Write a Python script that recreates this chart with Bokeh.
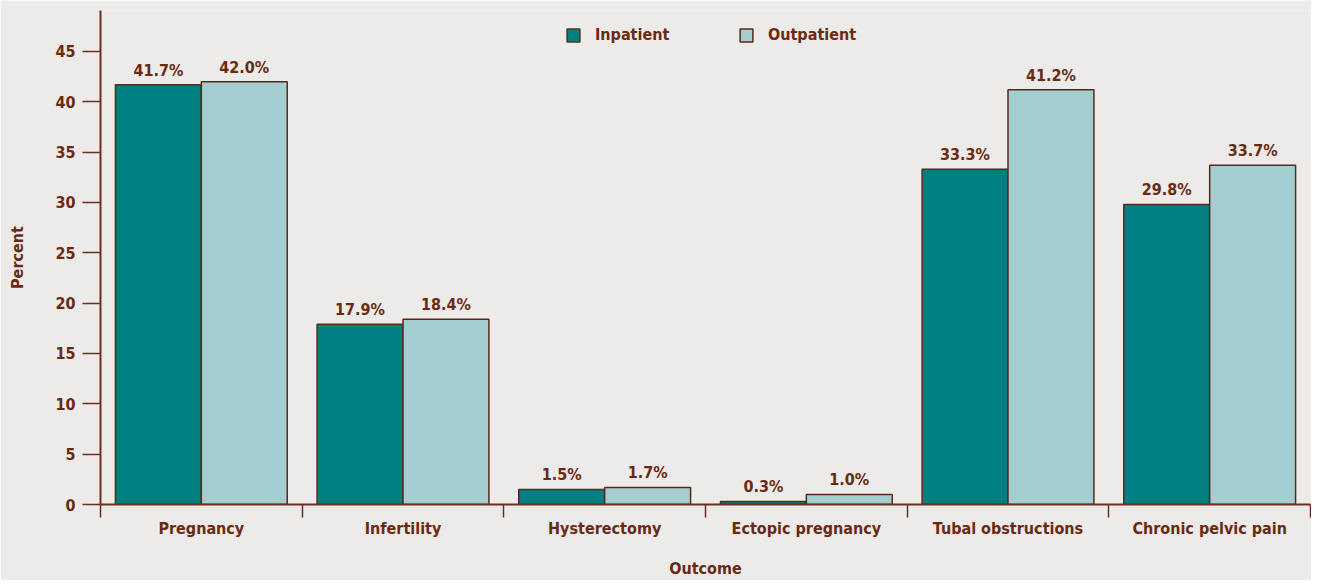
from bokeh.plotting import figure
from bokeh.models import (ColumnDataSource, FixedTicker, LabelSet, Legend, LegendItem,
                          Range1d)
from bokeh.core.properties import value
from bokeh.embed import file_html
from bokeh.resources import INLINE

categories = ["Pregnancy", "Infertility", "Hysterectomy", "Ectopic pregnancy",
              "Tubal obstructions", "Chronic pelvic pain"]
inpatient = [41.7, 17.9, 1.5, 0.3, 33.3, 29.8]
outpatient = [42.0, 18.4, 1.7, 1.0, 41.2, 33.7]
y_ticks = [0, 5, 10, 15, 20, 25, 30, 35, 40, 45]

FONT = "DejaVu Sans Condensed"
TXT = "#6a2a12"
AX = "#6b3020"
BG = "#ecebea"
C_IN = "#008080"
C_OUT = "#a3cdd0"

bw = 0.426
idx = list(range(len(categories)))
src_in = ColumnDataSource(dict(x=[i + 0.5 - bw / 2 for i in idx], top=inpatient,
                               lab=[f"{v:.1f}%" for v in inpatient]))
src_out = ColumnDataSource(dict(x=[i + 0.5 + bw / 2 for i in idx], top=outpatient,
                                lab=[f"{v:.1f}%" for v in outpatient]))

p = figure(width=1311, height=580, output_backend="svg", toolbar_location=None,
           x_range=Range1d(0, len(categories)), y_range=Range1d(0, 49.07),
           min_border_left=100, min_border_right=1, min_border_top=10, min_border_bottom=76)
p.background_fill_color = BG
p.border_fill_color = BG
p.outline_line_color = None
p.xgrid.visible = False
p.ygrid.visible = False

r_in = p.vbar(x="x", top="top", width=bw, bottom=0, source=src_in,
              fill_color=C_IN, line_color="#5a2a18", line_width=1.5)
r_out = p.vbar(x="x", top="top", width=bw, bottom=0, source=src_out,
               fill_color=C_OUT, line_color="#5a2a18", line_width=1.5)

for s in (src_in, src_out):
    p.add_layout(LabelSet(x="x", y="top", text="lab", source=s, text_align="center",
                          text_baseline="bottom", y_offset=5, text_font=value(FONT),
                          text_font_style="bold", text_font_size="16px", text_color=TXT))

# y axis
ya = p.yaxis[0]
ya.ticker = FixedTicker(ticks=y_ticks)
ya.major_tick_in = 0
ya.major_tick_out = 18
ya.minor_tick_out = 0
ya.minor_tick_in = 0
ya.axis_line_color = AX
ya.axis_line_width = 2
ya.major_tick_line_color = AX
ya.major_tick_line_width = 1.5
ya.major_label_standoff = 7
ya.major_label_text_font = FONT
ya.major_label_text_font_style = "bold"
ya.major_label_text_font_size = "16px"
ya.major_label_text_color = TXT
ya.axis_label = "Percent"
ya.axis_label_text_font = FONT
ya.axis_label_text_font_style = "bold"
ya.axis_label_text_font_size = "16px"
ya.axis_label_text_color = TXT
ya.axis_label_standoff = 25

# x axis
xa = p.xaxis[0]
xa.ticker = FixedTicker(ticks=[i + 0.5 for i in idx], minor_ticks=list(range(len(categories) + 1)))
xa.major_label_overrides = {i + 0.5: c for i, c in enumerate(categories)}
xa.major_tick_in = 0
xa.major_tick_out = 0
xa.minor_tick_in = 0
xa.minor_tick_out = 13
xa.minor_tick_line_color = AX
xa.minor_tick_line_width = 1.5
xa.axis_line_color = AX
xa.axis_line_width = 2
xa.major_label_standoff = 1
xa.major_label_text_font = FONT
xa.major_label_text_font_style = "bold"
xa.major_label_text_font_size = "16px"
xa.major_label_text_color = TXT
xa.axis_label = "Outcome"
xa.axis_label_text_font = FONT
xa.axis_label_text_font_style = "bold"
xa.axis_label_text_font_size = "16px"
xa.axis_label_text_color = TXT
xa.axis_label_standoff = 18

for name, r, loc in (("Inpatient", r_in, (465, 460)), ("Outpatient", r_out, (638, 460))):
    lg = Legend(items=[LegendItem(label=name, renderers=[r])], location=loc,
                orientation="horizontal", padding=0, margin=0, border_line_color=None,
                background_fill_alpha=0, glyph_width=16, glyph_height=16,
                label_height=16, label_standoff=14, label_text_font=FONT,
                label_text_font_style="bold", label_text_font_size="16px",
                label_text_color=TXT)
    p.add_layout(lg)

html = file_html(p, INLINE)
html = html.replace("<body>", '<body style="background:%s">' % BG, 1)
open("out.html", "w").write(html)
